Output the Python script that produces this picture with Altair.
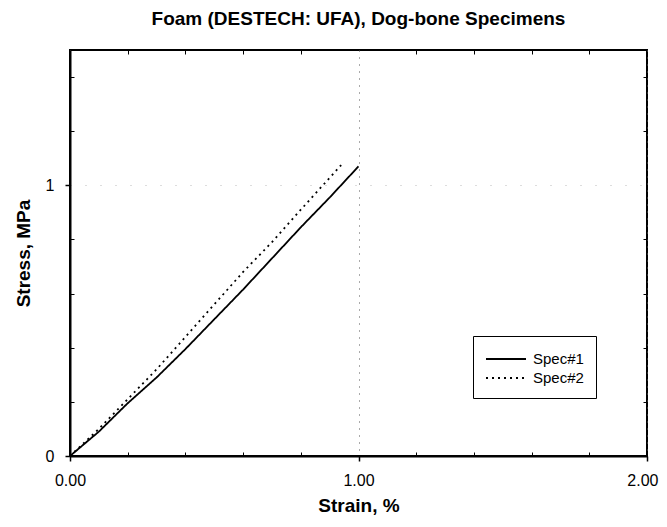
import altair as alt
import pandas as pd

# Spec#1 (solid)
strain1 = [0.0, 0.1, 0.2, 0.3, 0.4, 0.5, 0.6, 0.7, 0.8, 0.9, 1.0]
stress1 = [0.0, 0.09, 0.195, 0.29, 0.395, 0.505, 0.615, 0.73, 0.845, 0.955, 1.07]
# Spec#2 (dotted)
strain2 = [0.0, 0.1, 0.2, 0.3, 0.4, 0.5, 0.6, 0.7, 0.8, 0.94]
stress2 = [0.0, 0.10, 0.21, 0.32, 0.44, 0.56, 0.68, 0.79, 0.91, 1.075]

series_names = ["Spec#1", "Spec#2"]
x_major = [0, 1, 2]
y_major = [0, 1]
x_minor = [0.2, 0.4, 0.6, 0.8, 1.2, 1.4, 1.6, 1.8]
y_minor = [0.2, 0.4, 0.6, 0.8, 1.2, 1.4]

rows = []
for s, xs, ys in [(series_names[0], strain1, stress1), (series_names[1], strain2, stress2)]:
    for i, (a, b) in enumerate(zip(xs, ys)):
        rows.append({"series": s, "strain": a, "stress": b, "order": i})
df = pd.DataFrame(rows)

FONT = "Liberation Sans"
xscale = alt.Scale(domain=[0, 2], nice=False, zero=False)
yscale = alt.Scale(domain=[0, 1.5], nice=False, zero=False)

base = alt.Chart(df)

main = base.mark_line(color="black", strokeWidth=1.8).encode(
    x=alt.X("strain:Q", scale=xscale, title="Strain, %",
            axis=alt.Axis(orient="bottom", values=x_major, format=".2f", tickSize=5,
                          labelFlush=False,
                          labelAlign={"condition": {"test": "datum.value >= 2", "value": "right"},
                                      "value": "center"},
                          labelOffset={"condition": {"test": "datum.value >= 2", "value": 11},
                                       "value": 0},
                          domainWidth=2, domainColor="black", tickColor="black", tickWidth=1.5,
                          labelFontSize=16, labelFont=FONT, labelColor="black", labelPadding=11,
                          titleFontSize=19, titleFont=FONT, titleFontWeight="bold", titleColor="black",
                          titlePadding=8,
                          grid=True, gridDash=[1, 6], gridColor="#555", gridWidth=1)),
    y=alt.Y("stress:Q", scale=yscale, title="Stress, MPa",
            axis=alt.Axis(orient="left", values=y_major, format="d", tickSize=5,
                          domainWidth=2, domainColor="black", tickColor="black", tickWidth=1.5,
                          labelFontSize=16, labelFont=FONT, labelColor="black", labelPadding=11,
                          titleFontSize=19, titleFont=FONT, titleFontWeight="bold", titleColor="black",
                          titlePadding=12,
                          grid=True, gridDash=[1, 14], gridColor="#bbb", gridWidth=1)),
    strokeDash=alt.StrokeDash("series:N",
                              scale=alt.Scale(domain=series_names, range=[[1, 0], [2, 4]]),
                              legend=alt.Legend(title=None, orient="none", legendX=403, legendY=286,
                                                strokeColor="black", padding=12,
                                                symbolType="M-1,0H3", symbolSize=400,
                                                symbolStrokeWidth=1.8, symbolStrokeColor="black",
                                                labelFontSize=15, labelFont=FONT, labelColor="black",
                                                rowPadding=0, labelOffset=26)),
    order="order:Q",
)

top_right = base.mark_line(strokeOpacity=0).encode(
    x=alt.X("strain:Q", scale=xscale, title=None,
            axis=alt.Axis(orient="top", values=x_minor, labels=False, domain=False,
                          tickSize=4, offset=-4, tickColor="black", grid=False)),
    y=alt.Y("stress:Q", scale=yscale, title=None,
            axis=alt.Axis(orient="right", values=y_minor, labels=False, domain=False,
                          tickSize=4, offset=-4, tickColor="black", grid=False)),
    detail="series:N",
)

bottom_left = base.mark_line(strokeOpacity=0).encode(
    x=alt.X("strain:Q", scale=xscale, title=None,
            axis=alt.Axis(orient="bottom", values=x_minor, labels=False, domain=False,
                          tickSize=4, offset=-4, tickColor="black", grid=False)),
    y=alt.Y("stress:Q", scale=yscale, title=None,
            axis=alt.Axis(orient="left", values=y_minor, labels=False, domain=False,
                          tickSize=4, offset=-4, tickColor="black", grid=False)),
    detail="series:N",
)

chart = alt.layer(main, top_right, bottom_left).resolve_axis(
    x="independent", y="independent"
).properties(
    width=577, height=406,
    autosize=alt.AutoSizeParams(type="none"),
    padding={"left": 62, "top": 42, "right": 12, "bottom": 61},
    title=alt.TitleParams("Foam (DESTECH: UFA), Dog-bone Specimens", font=FONT, fontSize=19,
                          fontWeight="bold", color="black", anchor="middle", offset=21),
).configure_view(stroke="black", strokeWidth=2)

chart.save("out.html", embed_options={"renderer": "svg", "actions": False})
